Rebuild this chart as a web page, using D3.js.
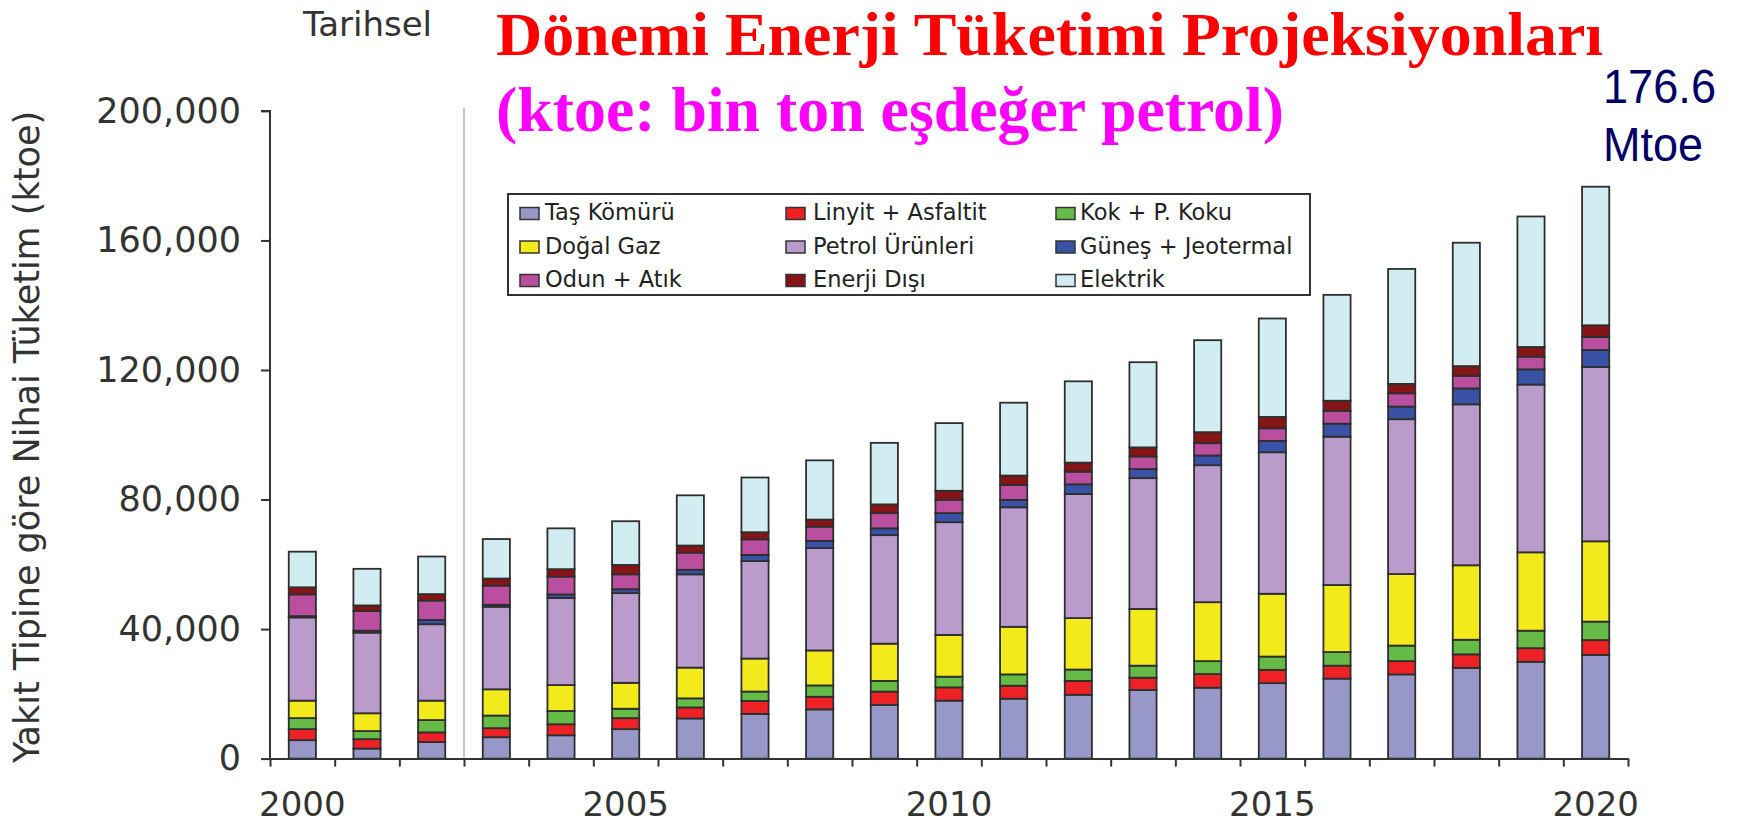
<!DOCTYPE html>
<html>
<head>
<meta charset="utf-8">
<script src="https://cdn.jsdelivr.net/npm/d3@7"></script>
<style>
  html, body { margin: 0; padding: 0; background: #ffffff; }
  svg { display: block; }
</style>
</head>
<body>
<svg id="chart" width="1739" height="823"></svg>
<script>
// ---- Data (ktoe) ----
const years = ["2000","2001","2002","2003","2004","2005","2006","2007","2008","2009","2010",
               "2011","2012","2013","2014","2015","2016","2017","2018","2019","2020"];
const tasKomuru  = [5700,3100,5100,6600,7200,9100,12400,13800,15200,16600,17900,18500,19700,21200,21900,23300,24700,26000,28000,29900,32000];
const linyit     = [3400,2900,3000,2800,3400,3400,3400,4000,3900,4100,4100,4000,4300,3800,4200,4100,4000,4100,4200,4200,4600];
const kok        = [3400,2500,3800,3900,4100,2900,2800,2900,3500,3300,3300,3500,3500,3700,4000,4100,4200,4800,4500,5400,5700];
const dogalGaz   = [5400,5500,6000,8100,8000,8000,9500,10200,10800,11500,12900,14700,15900,17500,18200,19400,20700,22100,23000,24200,24800];
const petrol     = [25700,24900,23600,25500,26900,27700,28800,30100,31600,33500,34800,36900,38300,40400,42300,43700,45800,47800,49700,51800,53800];
const gunes      = [400,600,1300,600,1100,1200,1400,1900,2200,2100,2800,2300,3000,2800,3000,3500,4000,3900,4900,4700,5300];
const odun       = [6700,6100,6000,5900,5500,4600,5300,4800,4400,4700,4100,4600,3900,3900,3800,3900,4000,4100,3900,3900,4000];
const enerjiDisi = [2200,1700,2000,2200,2300,2900,2200,2200,2200,2700,2800,2900,2800,2800,3400,3500,3100,2900,3000,3000,3600];
const elektrik   = [11000,11300,11600,12200,12600,13500,15500,16900,18300,19000,20900,22500,25100,26300,28400,30400,32700,35500,38100,40300,42800];

const seriesNames = ["Taş Kömürü","Linyit + Asfaltit","Kok + P. Koku","Doğal Gaz","Petrol Ürünleri",
                     "Güneş + Jeotermal","Odun + Atık","Enerji Dışı","Elektrik"];
const seriesValues = [tasKomuru, linyit, kok, dogalGaz, petrol, gunes, odun, enerjiDisi, elektrik];
const seriesColors = ["#9898c8","#ee2224","#66bb46","#f2ea1a","#b99ccb","#3a52a6","#b94f9e","#861417","#d2edf2"];
// legend order (row-major, 3 columns)
const legendOrder = ["Taş Kömürü","Linyit + Asfaltit","Kok + P. Koku",
                     "Doğal Gaz","Petrol Ürünleri","Güneş + Jeotermal",
                     "Odun + Atık","Enerji Dışı","Elektrik"];
const yTicks = [0, 40000, 80000, 120000, 160000, 200000];
const xLabelYears = ["2000","2005","2010","2015","2020"];

// ---- Build table ----
const table = years.map((yr, i) => {
  const row = { year: yr };
  seriesNames.forEach((n, k) => { row[n] = seriesValues[k][i]; });
  return row;
});
const stacked = d3.stack().keys(seriesNames)(table);
const color = d3.scaleOrdinal().domain(seriesNames).range(seriesColors);

const svg = d3.select("#chart");
svg.append("rect").attr("width", 1739).attr("height", 823).attr("fill", "#fff");

const x0 = 270, x1 = 1628, yBottom = 758.6, yTop = 110.9;
const x = d3.scaleBand().domain(years).range([x0, x1]).paddingInner(0.58).paddingOuter(0.29);
const y = d3.scaleLinear().domain([0, 200000]).range([yBottom, yTop]);
const xIdx = d3.scaleLinear().domain([0, years.length]).range([x0, x1]);

// separator line (Tarihsel / projection)
svg.append("line")
  .attr("x1", xIdx(3)).attr("x2", xIdx(3))
  .attr("y1", y(200000) - 3).attr("y2", yBottom)
  .attr("stroke", "#c8c8c8").attr("stroke-width", 2);

// bars
const g = svg.append("g");
g.selectAll("g.series").data(stacked).join("g")
  .attr("class", "series")
  .attr("fill", d => color(d.key))
  .selectAll("rect").data(d => d).join("rect")
  .attr("x", d => x(d.data.year))
  .attr("width", x.bandwidth())
  .attr("y", d => y(d[1]))
  .attr("height", d => y(d[0]) - y(d[1]))
  .attr("stroke", "#2e2e2e")
  .attr("stroke-width", 1.8);

// y axis
const yAxis = svg.append("g")
  .attr("transform", `translate(${x0},0)`)
  .call(d3.axisLeft(y).tickValues(yTicks).tickFormat(d3.format(",")).tickSize(9).tickPadding(20));
yAxis.selectAll("text").attr("font-family", "DejaVu Sans, Verdana, sans-serif").attr("font-size", 35).attr("fill", "#333");
yAxis.selectAll("line").attr("stroke", "#333").attr("stroke-width", 2);
yAxis.select(".domain").attr("stroke", "#333").attr("stroke-width", 2).attr("d", `M-9,${yTop}H0V${yBottom}`);

// x axis: boundary ticks
const xTickAxis = svg.append("g")
  .attr("transform", `translate(0,${yBottom})`)
  .call(d3.axisBottom(xIdx).tickValues(d3.range(0, years.length + 1)).tickFormat("").tickSize(8).tickSizeOuter(0));
xTickAxis.selectAll("line").attr("stroke", "#333").attr("stroke-width", 2);
xTickAxis.select(".domain").attr("stroke", "#333").attr("stroke-width", 2);

// x axis: labels
const xLab = svg.append("g")
  .attr("transform", `translate(0,${yBottom})`)
  .call(d3.axisBottom(x).tickValues(xLabelYears).tickSize(0).tickPadding(33));
xLab.select(".domain").remove();
xLab.selectAll("text").attr("font-family", "DejaVu Sans, Verdana, sans-serif").attr("font-size", 34).attr("fill", "#333");

// y axis title
svg.append("text")
  .attr("transform", "translate(39,437) rotate(-90)")
  .attr("text-anchor", "middle")
  .attr("font-family", "DejaVu Sans, Verdana, sans-serif")
  .attr("font-size", 35)
  .attr("fill", "#333")
  .text("Yakıt Tipine göre Nihai Tüketim (ktoe)");

// Tarihsel
svg.append("text")
  .attr("x", 303).attr("y", 36)
  .attr("font-family", "DejaVu Sans, Verdana, sans-serif")
  .attr("font-size", 34)
  .attr("fill", "#333")
  .text("Tarihsel");

// Title lines
svg.append("text")
  .attr("x", 496).attr("y", 55)
  .attr("font-family", "Liberation Serif, Times New Roman, serif")
  .attr("font-weight", "bold")
  .attr("font-size", 61)
  .attr("fill", "#ff0000")
  .attr("textLength", 1107).attr("lengthAdjust", "spacingAndGlyphs")
  .text("Dönemi Enerji Tüketimi Projeksiyonları");
svg.append("text")
  .attr("x", 496).attr("y", 131)
  .attr("font-family", "Liberation Serif, Times New Roman, serif")
  .attr("font-weight", "bold")
  .attr("font-size", 63)
  .attr("fill", "#ff00ff")
  .attr("textLength", 788).attr("lengthAdjust", "spacingAndGlyphs")
  .text("(ktoe: bin ton eşdeğer petrol)");

// 176.6 Mtoe
svg.append("text")
  .attr("x", 1603).attr("y", 103)
  .attr("font-family", "Liberation Sans, Arial, sans-serif")
  .attr("font-size", 48)
  .attr("fill", "#000066")
  .attr("textLength", 113).attr("lengthAdjust", "spacingAndGlyphs")
  .text("176.6");
svg.append("text")
  .attr("x", 1603).attr("y", 160.5)
  .attr("font-family", "Liberation Sans, Arial, sans-serif")
  .attr("font-size", 48)
  .attr("fill", "#000066")
  .attr("textLength", 100).attr("lengthAdjust", "spacingAndGlyphs")
  .text("Mtoe");

// Legend
const legend = svg.append("g");
legend.append("rect")
  .attr("x", 508).attr("y", 194).attr("width", 802).attr("height", 101)
  .attr("fill", "#fff").attr("stroke", "#333").attr("stroke-width", 2);
const colSwatchX = [520, 786, 1056];
const colTextX = [545, 813, 1080];
const rowBase = [220, 253.5, 287];
legendOrder.forEach((name, i) => {
  const c = i % 3, r = Math.floor(i / 3);
  legend.append("rect")
    .attr("x", colSwatchX[c]).attr("y", rowBase[r] - 12.5)
    .attr("width", 19).attr("height", 12)
    .attr("fill", color(name)).attr("stroke", "#333").attr("stroke-width", 1.5);
  legend.append("text")
    .attr("x", colTextX[c]).attr("y", rowBase[r])
    .attr("font-family", "DejaVu Sans, Verdana, sans-serif")
    .attr("font-size", 22.5)
    .attr("fill", "#222")
    .text(name);
});
</script>
</body>
</html>
